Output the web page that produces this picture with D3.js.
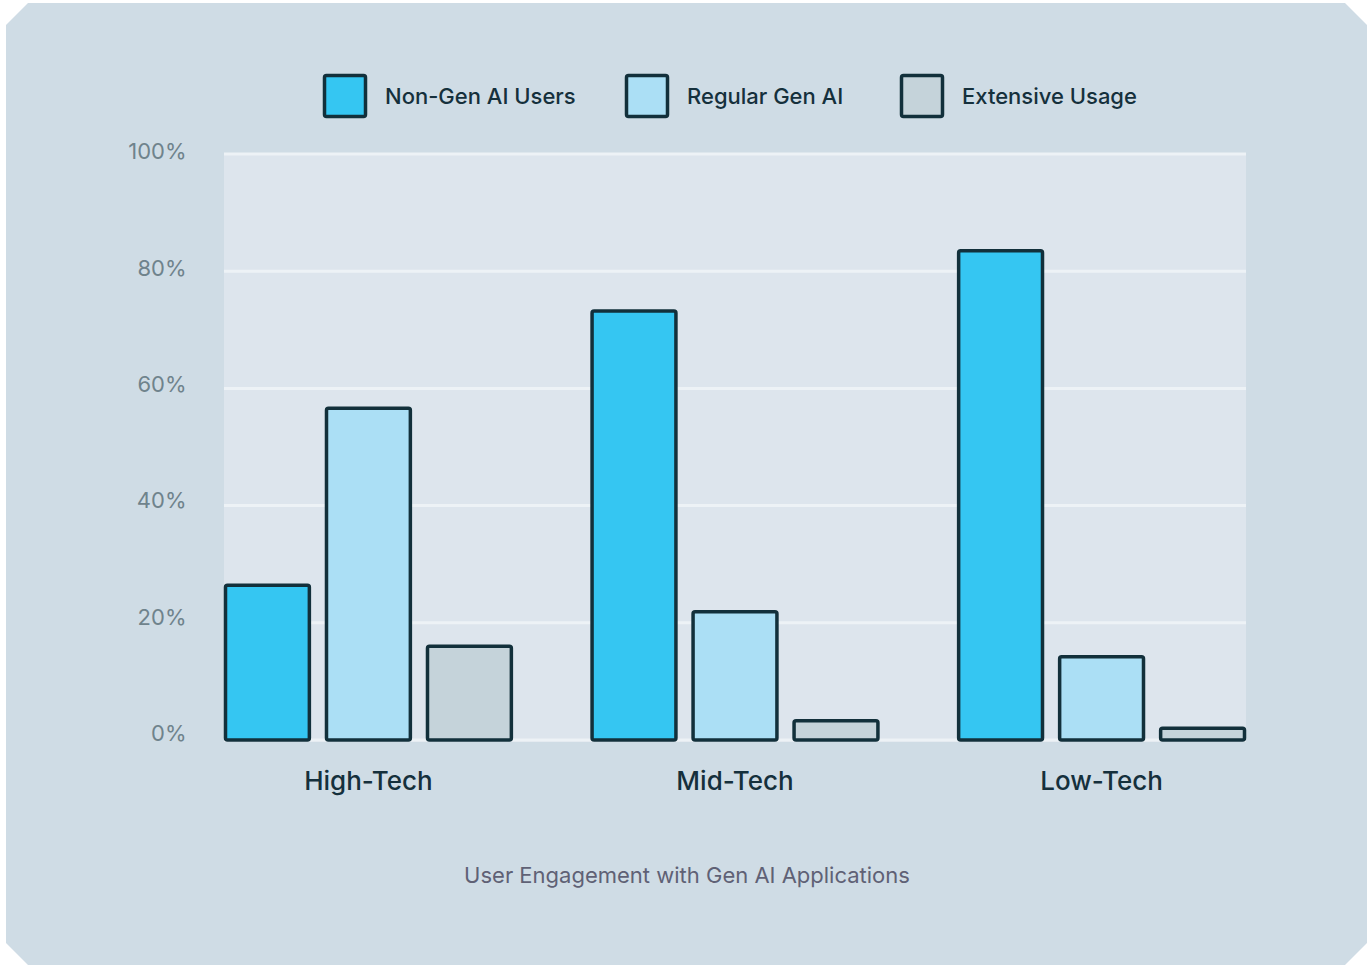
<!DOCTYPE html>
<html>
<head>
<meta charset="utf-8">
<script src="https://cdn.jsdelivr.net/npm/d3@7"></script>
<style>
  html, body { margin: 0; padding: 0; background: #ffffff; }
  svg { display: block; }
  text { font-family: Inter, "Noto Sans", sans-serif; }
</style>
</head>
<body>
<svg id="chart" width="1367" height="965"></svg>
<script>
const categories = ["High-Tech", "Mid-Tech", "Low-Tech"];
const seriesNames = ["Non-Gen AI Users", "Regular Gen AI", "Extensive Usage"];
const nonGenAI = [26.4, 73.2, 83.5];
const regularGenAI = [56.6, 21.9, 14.2];
const extensiveUsage = [16.0, 3.3, 2.0];
const tickValues = [0, 20, 40, 60, 80, 100];
const chartTitle = "User Engagement with Gen AI Applications";

const seriesValues = [nonGenAI, regularGenAI, extensiveUsage];
const colors = ["#35c6f2", "#abdff5", "#c5d3da"];
const strokeColor = "#12303b";

const svg = d3.select("#chart");

// Panel with chamfered corners
const px0 = 6, py0 = 3, px1 = 1367, py1 = 965, c = 22;
svg.append("path")
  .attr("d", `M${px0},${py0 + c} L${px0 + c},${py0} L${px1 - c},${py0} L${px1},${py0 + c} L${px1},${py1 - c} L${px1 - c},${py1} L${px0 + c},${py1} L${px0},${py1 - c} Z`)
  .attr("fill", "#cfdce5");

const margin = { left: 224, right: 1246, top: 154, bottom: 740 };

const y = d3.scaleLinear().domain([0, 100]).range([margin.bottom, margin.top]);
const yLabel = d3.scaleLinear().domain([0, 100]).range([733, 151]);
const x0 = d3.scaleBand().domain(categories).range([margin.left, margin.right])
  .paddingInner(0.212).paddingOuter(0);
const x1 = d3.scaleBand().domain(seriesNames).range([0, x0.bandwidth()])
  .paddingInner(0.14).paddingOuter(0);

// Plot background
svg.append("rect")
  .attr("x", margin.left).attr("y", margin.top)
  .attr("width", margin.right - margin.left)
  .attr("height", margin.bottom - margin.top + 2)
  .attr("fill", "#dde5ed");

// Gridlines
svg.append("g").selectAll("line").data(tickValues).join("line")
  .attr("x1", margin.left).attr("x2", margin.right)
  .attr("y1", d => y(d)).attr("y2", d => y(d))
  .attr("stroke", "#edf2f6").attr("stroke-width", 3);

// Y axis labels
const yAxis = d3.axisLeft(yLabel).tickValues(tickValues).tickFormat(d => d + "%").tickSize(0).tickPadding(0);
const gy = svg.append("g").attr("transform", `translate(186.5,0)`).call(yAxis);
gy.select(".domain").remove();
gy.selectAll("text")
  .attr("fill", "#6f838c")
  .style("font-size", "22px")
  .style("font-family", "Inter, sans-serif")
  .attr("dy", "0.35em");

// Bars
const groups = svg.append("g").selectAll("g").data(categories).join("g")
  .attr("transform", d => `translate(${x0(d)},0)`);

groups.selectAll("rect")
  .data((cat, i) => seriesNames.map((s, j) => ({ s, j, v: seriesValues[j][i] })))
  .join("rect")
  .attr("x", d => x1(d.s) + 1.5)
  .attr("y", d => y(d.v))
  .attr("width", x1.bandwidth() - 3)
  .attr("height", d => y(0) - y(d.v))
  .attr("rx", 2)
  .attr("fill", d => colors[d.j])
  .attr("stroke", strokeColor)
  .attr("stroke-width", 3.5);

// X axis labels
const xAxis = d3.axisBottom(x0).tickSize(0).tickPadding(0);
const gx = svg.append("g").attr("transform", `translate(0,781)`).call(xAxis);
gx.select(".domain").remove();
gx.selectAll("text")
  .attr("fill", "#15303c")
  .style("font-size", "26px")
  .style("font-weight", "500")
  .style("font-family", "Inter, sans-serif")
  .attr("y", 0)
  .attr("dy", "0.35em");

// Legend
const legendX = [323, 625, 900];
const legend = svg.append("g").selectAll("g").data(seriesNames).join("g")
  .attr("transform", (d, i) => `translate(${legendX[i]},74)`);
legend.append("rect")
  .attr("x", 1.5).attr("y", 1.5).attr("width", 41).attr("height", 41).attr("rx", 2)
  .attr("fill", (d, i) => colors[i])
  .attr("stroke", strokeColor).attr("stroke-width", 3.5);
legend.append("text")
  .attr("x", 62).attr("y", 22).attr("dy", "0.35em")
  .attr("fill", "#15303c")
  .style("font-size", "22px")
  .style("font-weight", "500")
  .text(d => d);

// Title
svg.append("text")
  .attr("x", 687).attr("y", 875.5).attr("dy", "0.35em")
  .attr("text-anchor", "middle")
  .attr("fill", "#5f6175")
  .style("font-size", "22px")
  .text(chartTitle);
</script>
</body>
</html>
